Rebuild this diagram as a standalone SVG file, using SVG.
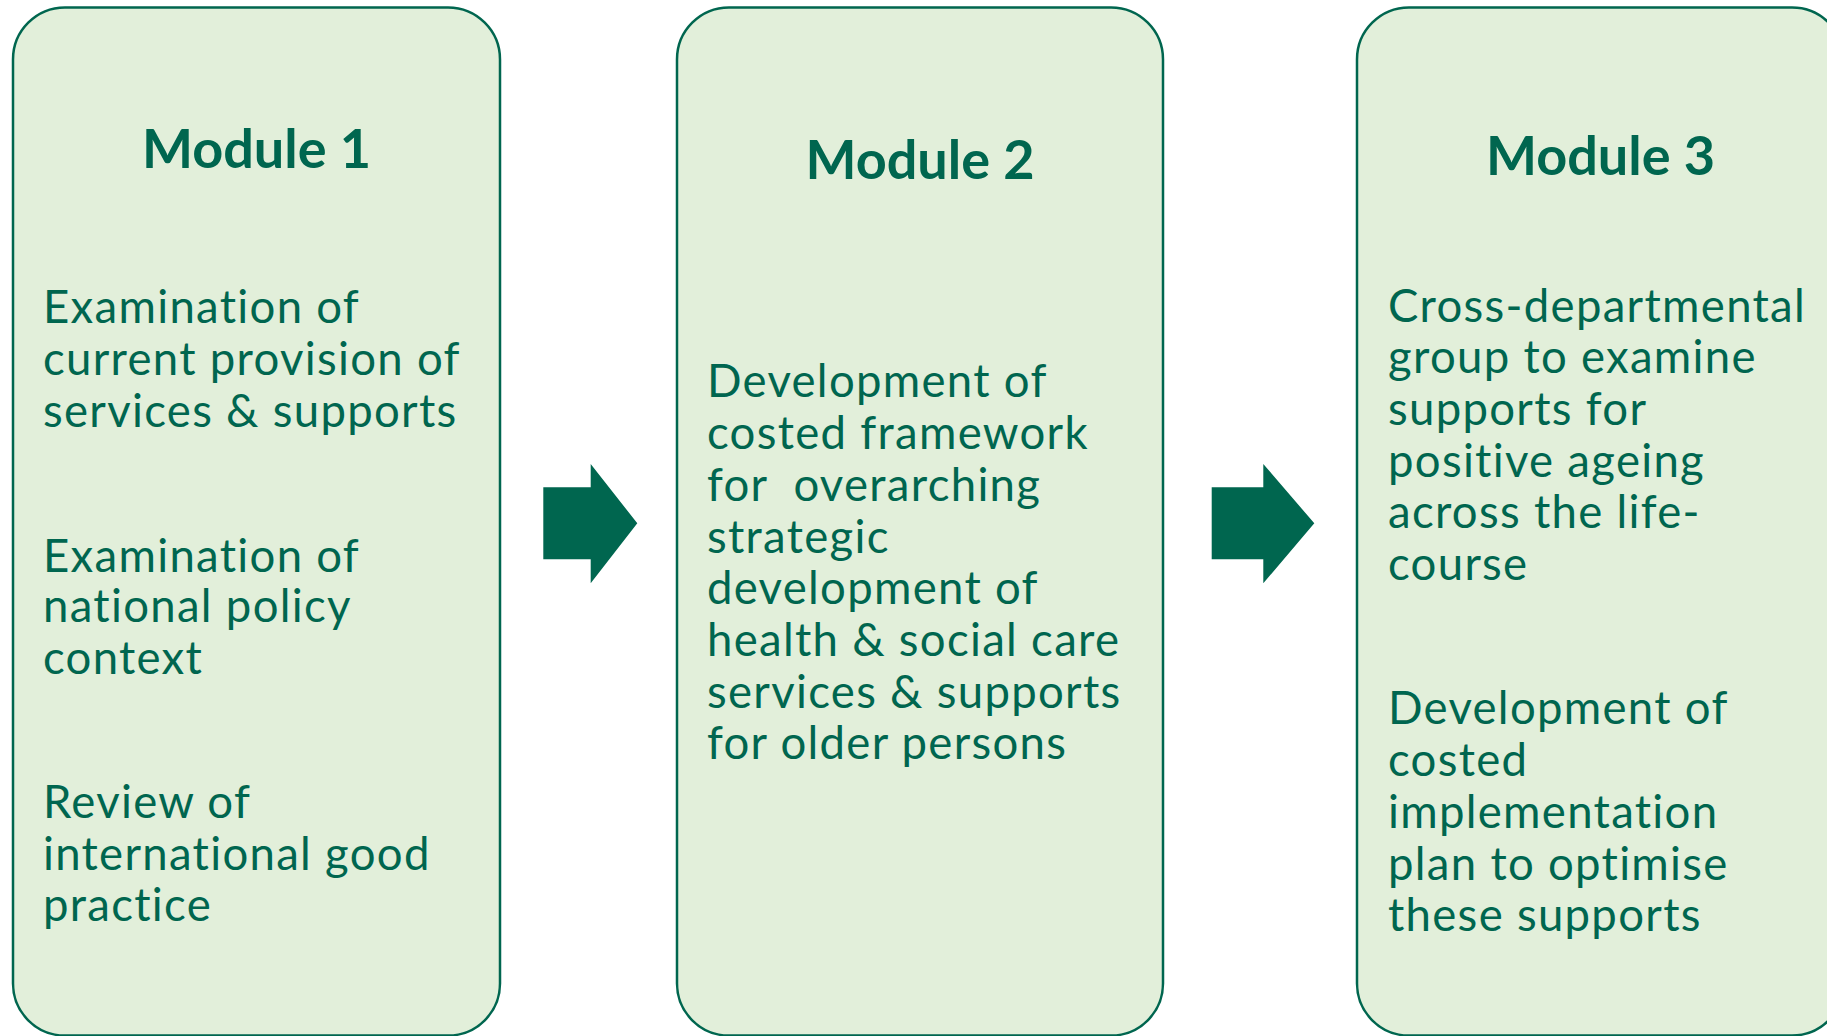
<svg xmlns="http://www.w3.org/2000/svg" width="1827" height="1036" viewBox="0 0 1827 1036">
<style>
.box{fill:#E2EFDA;stroke:#00664F;stroke-width:2.5}
.title{font-family:Lato,"Liberation Sans",sans-serif;font-weight:bold;font-size:54px;fill:#00664F;text-anchor:middle}
.body{font-family:Lato,"Liberation Sans",sans-serif;font-size:45.5px;letter-spacing:1.3px;fill:#00664F}
.arrow{fill:#00664F}
</style>
<rect x="0" y="0" width="1827" height="1036" fill="#FFFFFF"/>
<g id="module1">
<rect class="box" x="13" y="7.5" width="487" height="1028" rx="52" ry="52"/>
<text class="title" x="256.5" y="168">Module 1</text>
<text class="body"><tspan x="43" y="323.3">Examination of</tspan><tspan x="43" y="375">current provision of</tspan><tspan x="43" y="427">services &amp; supports</tspan></text>
<text class="body"><tspan x="43" y="571.7">Examination of</tspan><tspan x="43" y="622">national policy</tspan><tspan x="43" y="674">context</tspan></text>
<text class="body"><tspan x="43" y="817.7">Review of</tspan><tspan x="43" y="870">international good</tspan><tspan x="43" y="921">practice</tspan></text>
</g>
<g id="module2">
<rect class="box" x="677" y="7.5" width="486" height="1028" rx="52" ry="52"/>
<text class="title" x="920" y="179">Module 2</text>
<text class="body"><tspan x="707" y="397.3">Development of</tspan><tspan x="707" y="449">costed framework</tspan><tspan x="707" y="501" xml:space="preserve">for  overarching</tspan><tspan x="707" y="552.5">strategic</tspan><tspan x="707" y="604">development of</tspan><tspan x="707" y="656">health &amp; social care</tspan><tspan x="707" y="707.7">services &amp; supports</tspan><tspan x="707" y="759.3">for older persons</tspan></text>
</g>
<g id="module3">
<rect class="box" x="1357" y="7.5" width="487" height="1028" rx="52" ry="52"/>
<text class="title" x="1600.5" y="175">Module 3</text>
<text class="body"><tspan x="1388" y="321.7">Cross-departmental</tspan><tspan x="1388" y="373.3">group to examine</tspan><tspan x="1388" y="425">supports for</tspan><tspan x="1388" y="476.7">positive ageing</tspan><tspan x="1388" y="528.3">across the life-</tspan><tspan x="1388" y="580">course</tspan></text>
<text class="body"><tspan x="1388" y="724">Development of</tspan><tspan x="1388" y="776">costed</tspan><tspan x="1388" y="828">implementation</tspan><tspan x="1388" y="879.7">plan to optimise</tspan><tspan x="1388" y="931">these supports</tspan></text>
</g>
<g id="connectors">
<polygon class="arrow" points="543.3,487.3 590.7,487.3 590.7,464 637.3,523.3 590.7,583.3 590.7,559.3 543.3,559.3"/>
<polygon class="arrow" points="1211.7,487.3 1263.3,487.3 1263.3,464 1314.3,523.3 1263.3,583.3 1263.3,559.3 1211.7,559.3"/>
</g>
</svg>
